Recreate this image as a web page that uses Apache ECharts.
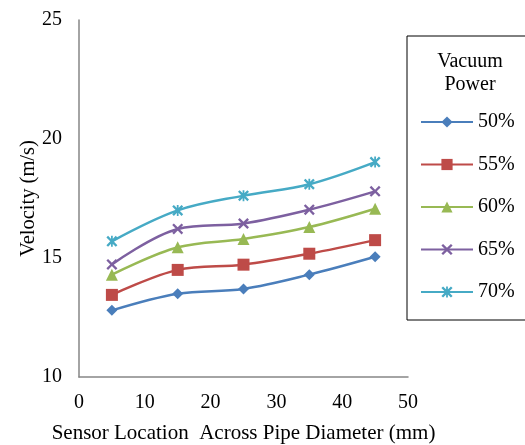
<!DOCTYPE html>
<html>
<head>
<meta charset="utf-8">
<script src="https://cdn.jsdelivr.net/npm/echarts@6/dist/echarts.min.js"></script>
<style>
  html, body { margin: 0; padding: 0; background: #fff; }
  #chart { width: 525px; height: 445px; }
</style>
</head>
<body>
<div id="chart"></div>
<script>
// Sensor positions across the pipe (mm)
const positions = [5, 15, 25, 35, 45];

// Measured velocities (m/s) per vacuum power setting
const seriesNames = ['50%', '55%', '60%', '65%', '70%'];
const v50 = [12.8, 13.5, 13.7, 14.3, 15.05];
const v55 = [13.45, 14.5, 14.72, 15.18, 15.75];
const v60 = [14.3, 15.45, 15.8, 16.3, 17.07];
const v65 = [14.73, 16.22, 16.45, 17.03, 17.8];
const v70 = [15.7, 17.0, 17.62, 18.1, 19.03];

const xTicks = [0, 10, 20, 30, 40, 50];
const yTicks = [10, 15, 20, 25];

const colors = ['#4a7ebb', '#be4b48', '#98b954', '#7d60a0', '#46aac5'];

// Marker shapes: diamond, square, triangle, cross, star (cross + bar)
const crossPath = 'path://M0,1.5L1.5,0L5,3.5L8.5,0L10,1.5L6.5,5L10,8.5L8.5,10L5,6.5L1.5,10L0,8.5L3.5,5Z';
const starPath = 'path://M0,1.5L1.5,0L5,3.5L8.5,0L10,1.5L6.5,5L10,8.5L8.5,10L5,6.5L1.5,10L0,8.5L3.5,5Z' +
                 'M4.2,0L5.8,0L5.8,10L4.2,10Z';
const symbols = ['diamond', 'rect', 'triangle', crossPath, starPath];
const symbolSizes = [11, 12, 12, 11, 11];

const values = [v50, v55, v60, v65, v70];
const font = 'Liberation Serif';

const chart = echarts.init(document.getElementById('chart'), null, { renderer: 'canvas' });

const series = values.map((vals, i) => ({
  name: seriesNames[i],
  type: 'line',
  data: positions.map((x, j) => [x, vals[j]]),
  smooth: 0.35,
  symbol: symbols[i],
  symbolSize: symbolSizes[i],
  showAllSymbol: true,
  lineStyle: { color: colors[i], width: 2.5 },
  itemStyle: { color: colors[i] },
  emphasis: { disabled: true },
  animation: false
}));

chart.setOption({
  animation: false,
  grid: { left: 79, right: 117, top: 20, bottom: 68, containLabel: false, outerBoundsMode: 'none' },
  xAxis: {
    type: 'value',
    min: xTicks[0],
    max: xTicks[xTicks.length - 1],
    interval: 10,
    name: 'Sensor Location  Across Pipe Diameter (mm)',
    nameLocation: 'middle',
    nameGap: 46,
    nameMoveOverlap: false,
    nameTextStyle: { fontFamily: font, fontSize: 21, color: '#000' },
    axisLine: { show: true, lineStyle: { color: '#868686', width: 1.5 } },
    axisTick: { show: false },
    splitLine: { show: false },
    axisLabel: { fontFamily: font, fontSize: 20, color: '#000', margin: 16 }
  },
  yAxis: {
    type: 'value',
    min: yTicks[0],
    max: yTicks[yTicks.length - 1],
    interval: 5,
    name: 'Velocity (m/s)',
    nameLocation: 'middle',
    nameGap: 40,
    nameMoveOverlap: false,
    nameTextStyle: { fontFamily: font, fontSize: 20.5, color: '#000' },
    axisLine: { show: true, lineStyle: { color: '#868686', width: 1.5 } },
    axisTick: { show: false },
    splitLine: { show: false },
    axisLabel: { fontFamily: font, fontSize: 20, color: '#000', margin: 17 }
  },
  legend: {
    orient: 'vertical',
    left: 420,
    top: 112,
    padding: 0,
    itemWidth: 52,
    itemHeight: 14,
    itemGap: 22.5,
    data: seriesNames,
    textStyle: { fontFamily: font, fontSize: 20, color: '#000' }
  },
  graphic: [
    {
      type: 'rect',
      shape: { x: 407, y: 36, width: 140, height: 284 },
      style: { fill: 'none', stroke: '#000', lineWidth: 1 },
      silent: true
    },
    {
      type: 'text',
      x: 470, y: 62,
      style: {
        text: 'Vacuum',
        font: '20px "Liberation Serif"',
        fill: '#000',
        textAlign: 'center',
        textVerticalAlign: 'middle'
      }
    },
    {
      type: 'text',
      x: 470, y: 85,
      style: {
        text: 'Power',
        font: '20px "Liberation Serif"',
        fill: '#000',
        textAlign: 'center',
        textVerticalAlign: 'middle'
      }
    }
  ],
  series: series
});
</script>
</body>
</html>
